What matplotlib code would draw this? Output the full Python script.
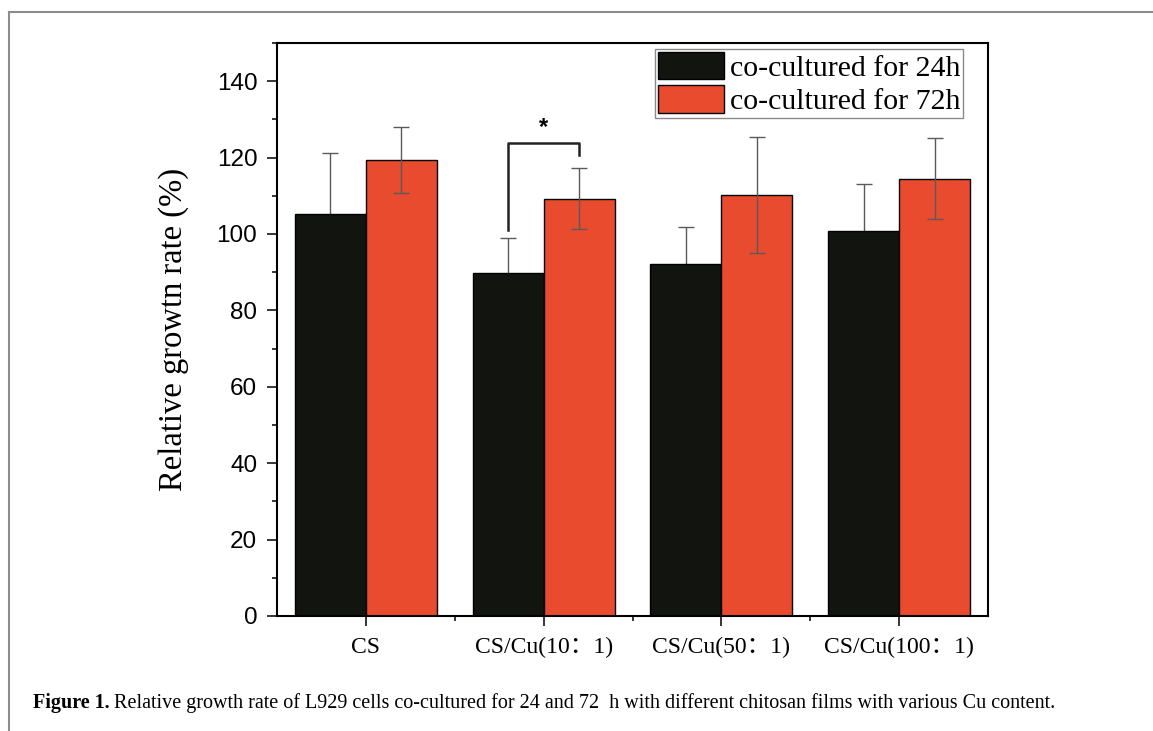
import numpy as np
import matplotlib
matplotlib.use("Agg")
import matplotlib.pyplot as plt
from matplotlib.lines import Line2D
from matplotlib.ticker import MultipleLocator, FixedLocator

# data
groups = ["CS", "CS/Cu(10：1)", "CS/Cu(50：1)", "CS/Cu(100：1)"]
series = ["co-cultured for 24h", "co-cultured for 72h"]
rate_24h = [105.2, 89.8, 92.1, 100.9]
err_24h = [16.1, 9.1, 9.8, 12.2]
rate_72h = [119.4, 109.2, 110.2, 114.4]
err_72h = [8.6, 8.0, 15.1, 10.6]
# significance bracket between 24h and 72h of CS/Cu(10:1)
sig_group = 1
sig_levels = [101.0, 123.9, 120.7]

c24 = "#11140f"
c72 = "#e94b2f"
serif = ["Liberation Serif", "Noto Sans CJK SC"]
sans = ["Liberation Sans", "DejaVu Sans"]

fig = plt.figure(figsize=(11.53, 7.31), dpi=100)
ax = fig.add_axes([277 / 1153, 1 - 616 / 731, (988 - 277) / 1153, (616 - 43) / 731])

x = np.arange(1, len(groups) + 1)
w = 0.4
ekw = dict(fmt="none", ecolor="#5a5a5a", elinewidth=1.0, capsize=5.5, capthick=1.0)
# 24h error bars sit behind the black bars, so only the upper half shows
ax.errorbar(x - w / 2, rate_24h, yerr=err_24h, zorder=1, **ekw)
ax.bar(x - w / 2, rate_24h, w, color=c24, edgecolor="black", linewidth=1.0,
       label=series[0], zorder=2)
ax.bar(x + w / 2, rate_72h, w, color=c72, edgecolor="black", linewidth=1.0,
       label=series[1], zorder=2)
ax.errorbar(x + w / 2, rate_72h, yerr=err_72h, zorder=3, **ekw)

# bracket + star
xl = x[sig_group] - w / 2
xr = x[sig_group] + w / 2
ax.plot([xl, xl, xr, xr], [sig_levels[0], sig_levels[1], sig_levels[1], sig_levels[2]],
        color="#222222", lw=1.8, zorder=3)
ax.text(x[sig_group], sig_levels[1] + 1.0, "*", ha="center", va="bottom",
        fontsize=17, family=sans, fontweight="bold")

ax.set_xlim(0.5, 4.5)
ax.set_ylim(0, 150)
ax.yaxis.set_major_locator(FixedLocator([0, 20, 40, 60, 80, 100, 120, 140]))
ax.yaxis.set_minor_locator(MultipleLocator(10))
ax.set_xticks(x)
ax.set_xticklabels(groups, family=serif, fontsize=17)
ax.xaxis.set_minor_locator(FixedLocator(x[:-1] + 0.5))
for lab in ax.get_yticklabels():
    lab.set_family(sans)
    lab.set_fontsize(17.5)
ax.tick_params(which="major", direction="out", length=7.2, width=1.1, pad=7)
ax.tick_params(which="minor", direction="out", length=3.6, width=1.1)
ax.tick_params(axis="x", which="major", pad=8)
for s in ax.spines.values():
    s.set_linewidth(1.5)
    s.set_color("black")
    s.set_zorder(4)

ax.set_ylabel("Relative growtn rate (%)", family=serif, fontsize=23.5, labelpad=20)

leg = ax.legend(loc="upper right", bbox_to_anchor=(0.965, 0.99), prop={"family": serif, "size": 21.5},
                frameon=True, fancybox=False, edgecolor="#8a8a8a", framealpha=1,
                handlelength=2.2, handleheight=1.05, handletextpad=0.2,
                labelspacing=0.12, borderpad=0.1, borderaxespad=0)
leg.get_frame().set_linewidth(1.0)
leg.set_zorder(5)

# page frame (top and left edges only)
fig.add_artist(Line2D([9 / 1153, 9 / 1153], [0, 1 - 12 / 731], color="#8c8c8c", lw=1.5,
                      transform=fig.transFigure))
fig.add_artist(Line2D([9 / 1153, 1], [1 - 12 / 731, 1 - 12 / 731], color="#8c8c8c", lw=1.5,
                      transform=fig.transFigure))

# caption
t1 = fig.text(33 / 1153, 1 - 703 / 731, "Figure 1.", family="Liberation Serif",
              fontweight="bold", fontsize=14.5, va="center")
fig.canvas.draw()
bb = t1.get_window_extent()
fig.text((bb.x1 + 4) / 1153, 1 - 703 / 731,
         "Relative growth rate of L929 cells co-cultured for 24 and 72  h with different chitosan films with various Cu content.",
         family="Liberation Serif", fontsize=14.5, va="center")

fig.savefig("out.png", dpi=100)
